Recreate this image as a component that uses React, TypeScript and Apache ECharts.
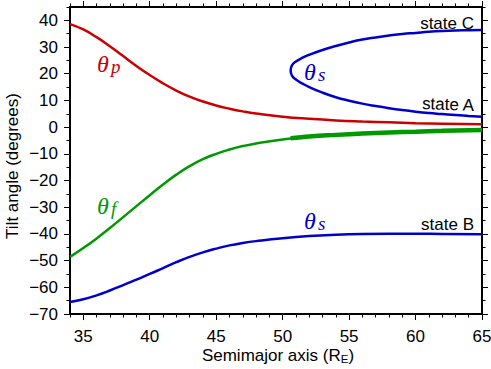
import { useEffect, useRef } from 'react';
import * as echarts from 'echarts';

// ---- data ----
const xValues = [34, 35, 36, 37, 38, 39, 40, 41, 42, 43, 44, 45, 46, 47, 48, 50, 52, 54, 56, 58, 60, 62, 65];
const thetaP = [38.6, 36.6, 33.7, 30.3, 26.6, 22.9, 19.5, 16.4, 13.7, 11.4, 9.6, 8.1, 6.9, 5.9, 5.1, 3.9, 3.1, 2.5, 2.1, 1.8, 1.5, 1.3, 1.1];
const thetaF = [-48.6, -45.3, -41.7, -37.8, -33.7, -29.6, -25.5, -21.5, -17.8, -14.6, -12.0, -10.0, -8.4, -7.1, -6.1, -4.6, -3.6, -3.0, -2.5, -2.1, -1.8, -1.5, -1.1];
const thetaSB = [-65.5, -64.5, -63.0, -61.2, -59.2, -57.1, -55.0, -52.8, -50.6, -48.6, -46.9, -45.5, -44.3, -43.4, -42.7, -41.6, -40.8, -40.3, -40.0, -39.9, -39.9, -40.0, -40.1];

// thick (double) part of theta_f
const thickFX = [50.6, 51, 52, 54, 56, 58, 60, 62, 65];
const thickFY = [-4.2, -4.0, -3.5, -2.9, -2.4, -2.0, -1.7, -1.4, -1.1];

// fold curve of theta_s: upper branch (state C) and lower branch (state A), joined at the nose
const upperX = [65, 64, 63, 62, 61, 60, 59, 58, 57, 56, 55, 54, 53, 52, 51.5, 51, 50.7];
const upperY = [36.4, 36.3, 36.2, 36.0, 35.7, 35.3, 34.9, 34.3, 33.6, 32.8, 31.7, 30.4, 28.9, 27.1, 26.0, 24.6, 23.1];
const noseX = 50.6;
const noseY = 21.2;
const lowerX = [50.7, 51, 51.5, 52, 53, 54, 55, 56, 57, 58, 59, 60, 61, 62, 63, 64, 65];
const lowerY = [19.3, 17.8, 16.3, 15.0, 12.9, 11.2, 9.9, 8.8, 7.9, 7.1, 6.4, 5.8, 5.3, 4.9, 4.5, 4.2, 3.9];

// ---- ticks ----
const xMajorTicks = [35, 40, 45, 50, 55, 60, 65];
const xMinorTicks = [34, 35, 36, 37, 38, 39, 40, 41, 42, 43, 44, 45, 46, 47, 48, 49, 50, 51, 52, 53, 54, 55, 56, 57, 58, 59, 60, 61, 62, 63, 64, 65];
const yMajorTicks = [-70, -60, -50, -40, -30, -20, -10, 0, 10, 20, 30, 40];
const yMinorTicks = [-70, -65, -60, -55, -50, -45, -40, -35, -30, -25, -20, -15, -10, -5, 0, 5, 10, 15, 20, 25, 30, 35, 40, 45];

const RED = '#cc0000';
const GREEN = '#009900';
const BLUE = '#0000cc';
const SANS = 'Liberation Sans';
const SERIF = 'Liberation Serif';

const fmt = (v: number) => String(v).replace('-', '\u2212');

export default function App() {
  const ref = useRef<HTMLDivElement>(null);
  useEffect(() => {
    const chart = echarts.init(ref.current!, null, { renderer: 'svg' });
    const gridRect = { left: 70, right: 9, top: 7, bottom: 55, outerBoundsMode: 'none', containLabel: false };
    const line = { show: true, onZero: false, lineStyle: { color: '#000', width: 2 } };
    const noLine = { show: false, onZero: false };
    const noSplit = { show: false };
    const majorTick = (vals: number[]) => ({ show: true, inside: false, length: 6, customValues: vals, lineStyle: { color: '#000', width: 1 } });
    const minorTick = (vals: number[]) => ({ show: true, inside: false, length: 3.5, customValues: vals, lineStyle: { color: '#000', width: 1 } });
    const label = (vals: number[], margin: number) => ({
      show: true, customValues: vals, formatter: fmt, color: '#000', fontSize: 17, fontFamily: SANS, margin,
    });

    const xBase = { type: 'value', min: 34, max: 65, splitLine: noSplit };
    const yBase = { type: 'value', min: -70, max: 45, splitLine: noSplit };

    const txt = (text: string, x: number, y: number, size: number, color: string, family: string, italic: boolean, align = 'left', rotation = 0) => ({
      type: 'text', x, y, rotation, z: 100,
      style: {
        text, fill: color, fontFamily: family, fontSize: size, fontStyle: italic ? 'italic' : 'normal',
        align, textAlign: align, verticalAlign: 'middle', textVerticalAlign: 'middle',
      },
    });
    const thetaLabel = (sub: string, color: string, x: number, y: number) => [
      txt('θ', x, y, 24, color, SERIF, true),
      txt(sub, x + 14, y + 2.5, 19, color, SERIF, true),
    ];

    const foldData = [
      ...upperX.map((x, i) => [x, upperY[i]]),
      [noseX, noseY],
      ...lowerX.map((x, i) => [x, lowerY[i]]),
    ];

    const lineSeries = (data: number[][], color: string, width: number) => ({
      type: 'line', xAxisIndex: 0, yAxisIndex: 0, showSymbol: false, smooth: 0.5,
      data, lineStyle: { color, width, cap: 'butt' },
    });

    const option: any = {
      animation: false,
      backgroundColor: '#fff',
      textStyle: { fontFamily: SANS },
      grid: [gridRect, { ...gridRect }],
      xAxis: [
        { ...xBase, gridIndex: 0, position: 'bottom', axisLine: line, axisTick: majorTick(xMajorTicks), axisLabel: label(xMajorTicks, 14) },
        { ...xBase, gridIndex: 0, position: 'top', axisLine: line, axisTick: majorTick(xMajorTicks), axisLabel: { show: false } },
        { ...xBase, gridIndex: 1, position: 'bottom', axisLine: noLine, axisTick: minorTick(xMinorTicks), axisLabel: { show: false } },
        { ...xBase, gridIndex: 1, position: 'top', axisLine: noLine, axisTick: minorTick(xMinorTicks), axisLabel: { show: false } },
      ],
      yAxis: [
        { ...yBase, gridIndex: 0, position: 'left', axisLine: line, axisTick: majorTick(yMajorTicks), axisLabel: label(yMajorTicks, 12) },
        { ...yBase, gridIndex: 0, position: 'right', axisLine: line, axisTick: majorTick(yMajorTicks), axisLabel: { show: false } },
        { ...yBase, gridIndex: 1, position: 'left', axisLine: noLine, axisTick: minorTick(yMinorTicks), axisLabel: { show: false } },
        { ...yBase, gridIndex: 1, position: 'right', axisLine: noLine, axisTick: minorTick(yMinorTicks), axisLabel: { show: false } },
      ],
      series: [
        lineSeries(xValues.map((x, i) => [x, thetaP[i]]), RED, 2.5),
        lineSeries(xValues.map((x, i) => [x, thetaF[i]]), GREEN, 2.5),
        lineSeries(thickFX.map((x, i) => [x, thickFY[i]]), GREEN, 4.5),
        lineSeries(xValues.map((x, i) => [x, thetaSB[i]]), BLUE, 2.5),
        lineSeries(foldData, BLUE, 2.5),
      ],
      graphic: [
        ...thetaLabel('p', RED, 97, 63.5),
        ...thetaLabel('f', GREEN, 97, 206),
        ...thetaLabel('s', BLUE, 304, 71.5),
        ...thetaLabel('s', BLUE, 304, 220.5),
        txt('state C', 474, 23, 17, '#000', SANS, false, 'right'),
        txt('state A', 474, 105.5, 17, '#000', SANS, false, 'right', -0.04),
        txt('state B', 474, 224.5, 17, '#000', SANS, false, 'right'),
        txt('Tilt angle (degrees)', 12, 166, 17, '#000', SANS, false, 'center', Math.PI / 2),
        {
          type: 'text', x: 278, y: 355,
          style: {
            text: '{m|Semimajor axis (R}{sub|E}{m|)}', fill: '#000', fontFamily: SANS,
            align: 'center', textAlign: 'center', verticalAlign: 'middle', textVerticalAlign: 'middle',
            rich: {
              m: { fontFamily: SANS, fontSize: 17, lineHeight: 20, fill: '#000' },
              sub: { fontFamily: SANS, fontSize: 11.5, lineHeight: 8, verticalAlign: 'bottom', fill: '#000' },
            },
          },
        },
      ],
    };
    chart.setOption(option);
    return () => chart.dispose();
  }, []);
  return <div ref={ref} style={{ position: 'fixed', left: 0, top: 0, width: 491, height: 369, background: '#fff' }} />;
}
